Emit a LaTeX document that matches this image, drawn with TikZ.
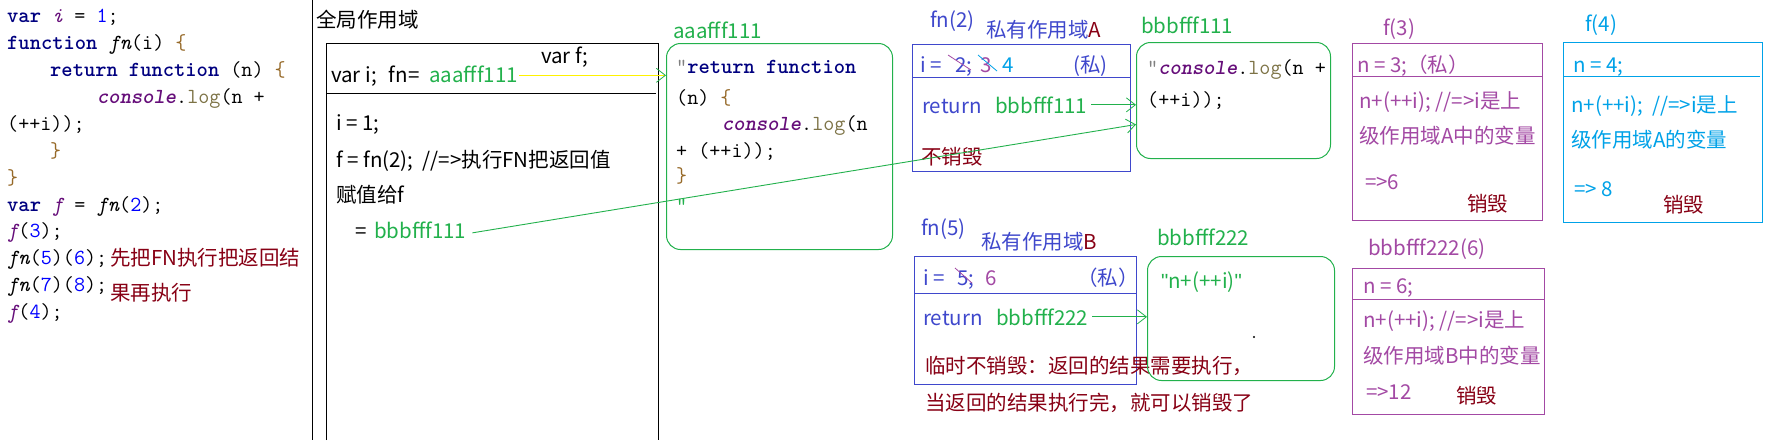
\documentclass[tikz,border=0pt]{standalone}
\usepackage{fontspec}
\setmainfont{Noto Sans CJK SC}
\newfontfamily\latq{Liberation Sans}
\usetikzlibrary{arrows.meta}
\definecolor{pgreen}{RGB}{34,177,76}
\definecolor{pblue}{RGB}{63,72,204}
\definecolor{ppurple}{RGB}{163,73,164}
\definecolor{pcyan}{RGB}{0,162,232}
\definecolor{pdred}{RGB}{136,0,21}
\definecolor{pyellow}{RGB}{255,242,0}
\definecolor{kwc}{RGB}{0,0,128}
\definecolor{vrc}{RGB}{102,14,122}
\definecolor{nmc}{RGB}{0,0,255}
\definecolor{brcc}{RGB}{150,105,40}
\definecolor{lgcc}{RGB}{125,115,70}
\newcommand\kwd[1]{{\bfseries\color{kwc}#1}}
\newcommand\vrn[1]{{\itshape\color{vrc}#1}}
\newcommand\nmb[1]{{\color{nmc}#1}}
\newcommand\brc[1]{{\color{brcc}#1}}
\newcommand\cns[1]{{\bfseries\itshape\color{vrc}#1}}
\newcommand\lgc[1]{{\color{lgcc}#1}}
\newcommand\fni[1]{{\itshape #1}}
\tikzset{
  code/.style={inner sep=0pt, anchor=base west, font=\ttfamily\fontsize{21.5}{26}\selectfont},
  txt/.style={inner sep=0pt, anchor=base west, font=\fontsize{20.5}{24}\selectfont},
  pbox/.style={draw, inner sep=0pt, anchor=north west, line width=1pt},
  rbox/.style={pbox, draw=pgreen, rounded corners=14pt},
  garrow/.style={draw=pgreen, line width=0.9pt, -{Straight Barb[length=9pt,width=14pt,line width=0.8pt]}},
  yarrow/.style={draw=pyellow, line width=1pt, -{Straight Barb[length=9pt,width=14pt,line width=0.8pt,color=pgreen]}},
}
\begin{document}
\begin{tikzpicture}[x=1pt,y=-1pt]
\useasboundingbox (0,0) rectangle (1783,440);
\fill[white] (0,0) rectangle (1783,440);

% left code panel
\node[code] (c1) at (7,22) {\kwd{var} \vrn{i} = \nmb{1};};
\node[code] (c2) at (7,49) {\kwd{function} \fni{fn}(i) \brc{\{}};
\node[code] (c3) at (50,76) {\kwd{return} \kwd{function} (n) \brc{\{}};
\node[code] (c4) at (97,103) {\cns{console}.\lgc{log}(n +};
\node[code] (c5) at (7,130) {(++i));};
\node[code] (c6) at (50,157) {\brc{\}}};
\node[code] (c7) at (7,184) {\brc{\}}};
\node[code] (c8) at (7,211) {\kwd{var} \vrn{f} = \fni{fn}(\nmb{2});};
\node[code] (c9) at (7,237) {\vrn{f}(\nmb{3});};
\node[code] (c10) at (7,264) {\fni{fn}(\nmb{5})(\nmb{6});};
\node[code] (c11) at (7,291) {\fni{fn}(\nmb{7})(\nmb{8});};
\node[code] (c12) at (7,318) {\vrn{f}(\nmb{4});};
\node[txt, text=pdred] (n1) at (110,265) {先把FN执行把返回结};
\node[txt, text=pdred] (n2) at (110,300) {果再执行};

\draw[line width=1pt] (312,0) -- (312,440);

% global scope
\node[txt] (gt) at (316,27) {全局作用域};
\draw[line width=1pt] (326,440) -- (326,43) -- (658,43) -- (658,440);
\draw[line width=1pt] (326,93) -- (656,93);
\node[txt] (gvf) at (541,63) {var f;};
\node[txt] (gvi) at (331,82) {var i;\hspace{12pt}fn=};
\node[txt, text=pgreen] (ga) at (429,82) {aaafff111};
\node[txt] (g1) at (336,130) {i = 1;};
\node[txt] (g2) at (336,167) {f = fn(2);\ \ //=>执行FN把返回值};
\node[txt] (g3) at (336,202) {赋值给f};
\node[txt] (g4) at (355,238) {=};
\node[txt, text=pgreen] (gb) at (374,238) {bbbfff111};

% aaafff111 heap
\node[txt, text=pgreen] (la) at (673,38) {aaafff111};
\node[rbox, minimum width=226pt, minimum height=206pt] (boxA) at (666,43) {};
\node[code] (a1) at (676,73) {{\color{gray}"}\kwd{return} \kwd{function}};
\node[code] (a2) at (676,104) {(n) \brc{\{}};
\node[code] (a3) at (722,130) {\cns{console}.\lgc{log}(n};
\node[code] (a4) at (676,157) {+ (++i));};
\node[code] (a5) at (676,182) {\brc{\}}};
\node[code, text=pgreen] (a6) at (676,212) {"};

% fn(2) private scope A
\node[txt, text=pblue] (l2) at (930,27) {fn(2)};
\node[txt, text=pblue] (sa) at (986,37) {私有作用域\textcolor{pdred}{A}};
\node[pbox, draw=pblue, minimum width=218pt, minimum height=127pt] (fn2box) at (912,44) {};
\draw[pblue, line width=1pt] (912,77) -- (1130,77);
\node[txt, text=pblue] (r1a) at (920,72) {i =};
\node[txt, text=pblue] (r1b) at (955,72) {2;};
\node[txt, text=ppurple] (r1c) at (980,72) {3};
\node[txt, text=pcyan] (r1d) at (1002,72) {4};
\node[txt, text=pblue] (r1e) at (1073,72) {(私)};
\draw[ppurple, line width=0.8pt] (948,55) -- (971,70);
\draw[pcyan, line width=0.8pt] (978,55) -- (997,71);
\node[txt, text=pblue] (ret1) at (922,113) {return};
\node[txt, text=pgreen] (r1) at (995,113) {bbbfff111};
\node[txt, text=pdred] (nd1) at (921,164) {不销毁};

% bbbfff111 heap
\node[txt, text=pgreen] (lb1) at (1141,33) {bbbfff111};
\node[rbox, minimum width=194pt, minimum height=116pt] (box1) at (1136,42) {};
\node[code] (b1) at (1147,74) {{\color{gray}"}\cns{console}.\lgc{log}(n +};
\node[code] (b2) at (1147,106) {(++i));};

% f(3)
\node[txt, text=ppurple] (l3) at (1383,35) {f(3)};
\node[pbox, draw=ppurple, minimum width=190pt, minimum height=177pt] (f3box) at (1352,43) {};
\draw[ppurple, line width=1pt] (1352,76) -- (1543,76);
\node[txt, text=ppurple] (f3a) at (1357,72) {n = 3;（私）};
\node[txt, text=ppurple] (f3b) at (1359,108) {n+(++i); //=>i是上};
\node[txt, text=ppurple] (f3c) at (1359,143) {级作用域A中的变量};
\node[txt, text=ppurple] (f3d) at (1365,189) {=>6};
\node[txt, text=pdred] (f3e) at (1467,211) {销毁};

% f(4)
\node[txt, text=pcyan] (l4) at (1585,31) {f(4)};
\node[pbox, draw=pcyan, minimum width=199pt, minimum height=180pt] (f4box) at (1563,42) {};
\draw[pcyan, line width=1pt] (1563,76) -- (1760,76);
\node[txt, text=pcyan] (f4a) at (1573,72) {n = 4;};
\node[txt, text=pcyan] (f4b) at (1571,112) {n+(++i);\ \ //=>i是上};
\node[txt, text=pcyan] (f4c) at (1571,147) {级作用域A的变量};
\node[txt, text=pcyan] (f4d) at (1574,196) {=> 8};
\node[txt, text=pdred] (f4e) at (1663,212) {销毁};

% fn(5) private scope B
\node[txt, text=pblue] (l5) at (921,235) {fn(5)};
\node[txt, text=pblue] (sb) at (981,249) {私有作用域\textcolor{pdred}{B}};
\node[pbox, draw=pblue, minimum width=222pt, minimum height=128pt] (fn5box) at (914,256) {};
\draw[pblue, line width=1pt] (914,293) -- (1136,293);
\node[txt, text=pblue] (r5a) at (923,285) {i =};
\node[txt, text=pblue] (r5b) at (957,285) {5;};
\node[txt, text=ppurple] (r5c) at (985,285) {6};
\node[txt, text=pblue] (r5e) at (1077,285) {（私）};
\draw[ppurple, line width=0.8pt] (955,268) -- (972,283);
\node[txt, text=pblue] (ret2) at (923,325) {return};
\node[txt, text=pgreen] (r2) at (996,325) {bbbfff222};
\node[txt, text=pdred] (nd2) at (925,373) {临时不销毁：返回的结果需要执行，};
\node[txt, text=pdred] (nd3) at (925,410) {当返回的结果执行完，就可以销毁了};

% bbbfff222 heap
\node[txt, text=pgreen] (lb2) at (1157,245) {bbbfff222};
\node[rbox, minimum width=187pt, minimum height=124pt] (box2) at (1147,256) {};
\node[txt, text=pgreen] (b3) at (1161,288) {{\latq"}n+(++i){\latq"}};
\fill (1254,337) circle (1.1pt);

% bbbfff222(6)
\node[txt, text=ppurple] (l6) at (1368,255) {bbbfff222(6)};
\node[pbox, draw=ppurple, minimum width=192pt, minimum height=146pt] (f6box) at (1352,268) {};
\draw[ppurple, line width=1pt] (1352,299) -- (1544,299);
\node[txt, text=ppurple] (f6a) at (1363,293) {n = 6;};
\node[txt, text=ppurple] (f6b) at (1363,327) {n+(++i); //=>i是上};
\node[txt, text=ppurple] (f6c) at (1363,363) {级作用域B中的变量};
\node[txt, text=ppurple] (f6d) at (1366,399) {=>12};
\node[txt, text=pdred] (f6e) at (1456,403) {销毁};

% connectors
\draw[yarrow] ([xshift=1pt,yshift=-1.5pt]ga.east) -- ([yshift=-1.5pt]ga.east -| boxA.west);
\draw[garrow] ([xshift=6pt,yshift=-3pt]gb.east) -- ([yshift=-24pt]box1.west);
\draw[garrow] ([xshift=4pt]r1.east) -- (r1.east -| box1.west);
\draw[garrow] ([xshift=4pt]r2.east) -- (r2.east -| box2.west);
\end{tikzpicture}
\end{document}
